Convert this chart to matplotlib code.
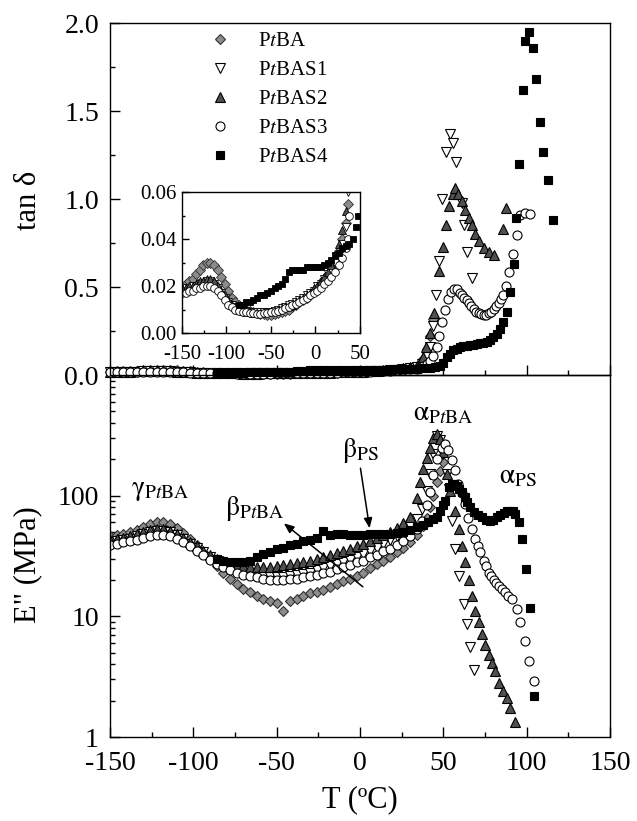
import matplotlib
matplotlib.use('Agg')
import matplotlib.pyplot as plt
from matplotlib.ticker import MultipleLocator, FixedLocator, FixedFormatter, LogLocator, NullFormatter

plt.rcParams['font.family'] = 'serif'
plt.rcParams['font.serif'] = ['Liberation Serif', 'DejaVu Serif']
plt.rcParams['mathtext.fontset'] = 'stix'
plt.rcParams['axes.unicode_minus'] = False

# ---- data ----
# common low-temperature grid (deg C)
T_LOW = [-150, -146, -142, -138, -134, -130, -126, -122, -118, -114, -110, -106, -102, -98,
         -94, -90, -86, -82, -78, -74, -70, -66, -62, -58, -54, -50, -46, -42, -38, -34,
         -30, -26, -22, -18, -14, -10, -6, -2, 2, 6, 10, 14, 18, 22, 26, 30, 34]
T_S4_LOW = [-86, -82, -78, -74, -70, -66, -62, -58, -54, -50, -46, -42, -38, -34, -30, -26,
            -22, -18, -14, -10, -6, -2, 2, 6, 10, 14, 18, 22, 26, 30, 34]

# tan delta, low T
TAN_PTBA_LOW = [.020, .021, .022, .023, .025, .027, .029, .030, .030, .029, .027, .024, .021, .018,
                .015, .013, .012, .011, .010, .0095, .009, .0085, .008, .008, .0078, .0078, .008,
                .0085, .009, .0095, .010, .011, .012, .013, .014, .015, .016, .018, .019, .021,
                .023, .025, .028, .031, .035, .040, .047]
TAN_S1_LOW = [.018, .019, .019, .020, .020, .021, .021, .022, .022, .021, .019, .017, .015, .013,
              .012, .011, .0105, .010, .0095, .009, .009, .0088, .0088, .0088, .009, .009, .0095,
              .010, .0105, .011, .012, .0125, .013, .014, .015, .016, .017, .018, .020, .021,
              .023, .025, .027, .030, .033, .038, .045]
TAN_S2_LOW = [.019, .019, .020, .020, .021, .022, .022, .023, .023, .022, .020, .018, .016, .014,
              .012, .011, .010, .0095, .009, .0088, .0085, .0085, .0085, .0088, .009, .0092, .0095,
              .010, .0105, .011, .0115, .012, .013, .014, .015, .016, .017, .019, .020, .022,
              .024, .026, .029, .033, .038, .044, .052]
TAN_S3_LOW = [.017, .017, .018, .018, .019, .019, .020, .020, .020, .019, .018, .016, .014, .012,
              .011, .010, .0095, .009, .0088, .0085, .0083, .0082, .0082, .0083, .0085, .0088, .009,
              .0095, .010, .0105, .011, .012, .0125, .013, .014, .015, .016, .017, .018, .019,
              .021, .022, .024, .026, .029, .032, .036]
TAN_S4_LOW = [.012, .012, .013, .013, .014, .015, .016, .016, .017, .018, .019, .020, .021, .023,
              .026, .027, .027, .027, .027, .028, .028, .028, .028, .028, .029, .030, .031, .033,
              .034, .036, .037]

# tan delta, high T
T_PTBA_TAN_HI = [36, 38, 40, 42, 44]
TAN_PTBA_HI = [.055, .09, .15, .22, .32]
T_S1_TAN_HI = [37, 40, 42, 44, 45.8, 47.2, 49, 51.8, 54, 56, 57.6, 61, 62.6, 64, 67]
TAN_S1_HI = [.06, .10, .16, .28, .455, .65, 1.0, 1.27, 1.37, 1.32, 1.21, .98, .85, .70, .55]
T_S2_TAN_HI = [36, 38, 39.8, 42.2, 44.2, 47.2, 49.8, 51.8, 53.2, 55.5, 57.2, 59, 61.2, 63.2, 65.2,
               67.2, 69.2, 71.2, 74.2, 77.2, 80.2, 85.8, 87.8]
TAN_S2_HI = [.065, .10, .16, .24, .35, .59, .73, .85, .96, 1.03, 1.06, 1.03, .99, .94, .89,
             .85, .80, .76, .72, .70, .68, .83, .95]
T_S3_TAN_HI = [36, 38, 40, 42, 44, 46.2, 47.2, 49.2, 51.2, 52.6, 54.6, 56.6, 58.2, 60.2, 61.4,
               62.6, 63.9, 65.2, 66.7, 68.2, 69.7, 71.2, 72.7, 74.2, 75.7, 77.2, 78.7, 80.2,
               81.7, 83.2, 84.5, 85.8, 87.8, 89.2, 91.8, 94.2, 96.2, 99.2, 102.2]
TAN_S3_HI = [.04, .05, .065, .08, .11, .16, .22, .30, .37, .43, .474, .49, .487, .468, .455,
             .44, .425, .407, .39, .373, .36, .35, .344, .34, .342, .35, .36, .373,
             .39, .407, .43, .455, .505, .587, .69, .795, .91, .92, .915]
T_S4_TAN_HI = [38, 42, 45, 48, 50, 52, 54, 56, 58, 60, 62, 64, 66, 68, 70, 72, 74, 76, 78, 80,
               82, 84, 86, 88, 90, 92.3, 93.5, 95.4, 97.7, 99, 101.3, 103.7, 105.6, 108, 110,
               112.7, 116]
TAN_S4_HI = [.038, .04, .045, .05, .07, .10, .12, .14, .15, .158, .163, .167, .17, .173, .176,
             .18, .183, .19, .20, .215, .235, .26, .30, .36, .47, .63, .89, 1.20, 1.62, 1.90,
             1.95, 1.86, 1.68, 1.44, 1.27, 1.11, .88]

# E'' (MPa), low T
E_PTBA_LOW = [46, 47, 48, 50, 52, 55, 58, 60, 60, 58, 54, 49, 44, 39, 34, 30, 26, 23, 20.5, 18.5,
              17, 15.8, 14.8, 14, 13.5, 13, 11, 13.5, 14, 14.8, 15.5, 16, 16.5, 17.5, 18.5, 19.5,
              20.5, 21.5, 23, 25, 27, 29, 31, 34, 37, 41, 47]
E_S1_LOW = [41, 42, 43, 44, 46, 48, 50, 51, 51, 50, 47, 44, 40, 37, 34, 31, 28.5, 26.5, 25, 23.5,
            22.5, 22, 21.5, 21, 21, 21, 21, 21.5, 22, 22.5, 23, 24, 25, 26, 27, 28, 29.5, 31, 33,
            35, 37, 40, 43, 46, 50, 56, 64]
E_S2_LOW = [43, 44, 45, 46, 48, 50, 52, 53, 53, 51, 48, 45, 41, 38, 35, 32, 30, 28.5, 27.5, 26.5,
            26, 25.5, 25.5, 25.5, 25.5, 26, 26.5, 27, 27.5, 28, 29, 30, 31, 32, 33.5, 35, 36.5,
            38, 40, 42, 44.5, 47, 50, 54, 59, 66, 95]
E_S3_LOW = [39, 40, 41, 42, 43, 45, 46, 47, 47, 46, 44, 41, 38, 35, 32, 29.5, 27, 25.5, 24, 23,
            22, 21.5, 21, 20.5, 20, 20, 20, 20.5, 20.5, 21, 21.5, 22, 23, 23.5, 24.5, 25.5, 26.5,
            28, 29, 31, 32.5, 34.5, 36.5, 39, 42, 46, 53]
E_S4_LOW = [30, 29, 28, 28, 28, 29, 31, 33, 34, 36, 37, 39, 40, 42, 43, 45, 51, 47, 48, 48, 47,
            47, 47, 48, 48, 48, 48, 49, 50, 52, 55]

# E'' (MPa), high T
T_PTBA_E_HI = [38, 40, 42, 44, 46, 48, 50]
E_PTBA_HI = [56, 65, 80, 100, 130, 160, 190]
T_S1_E_HI = [37, 40, 42, 44, 46, 48, 50, 52, 53.4, 55, 57, 59.4, 62.4, 64.2, 66, 68.4]
E_S1_HI = [78, 110, 150, 220, 310, 290, 220, 150, 114, 62, 36, 21.6, 12.6, 8.6, 5.6, 3.6]
T_S2_E_HI = [36, 38, 40, 42, 44, 46, 48, 50, 52, 54, 57, 59.4, 61.2, 63, 65.4, 67, 69, 71.4, 73,
             75, 77.4, 79, 81, 83.4, 85.8, 88.2, 90, 93]
E_S2_HI = [130, 165, 204, 250, 300, 325, 295, 230, 152, 110, 75, 53, 38.5, 28, 20, 14.7, 11, 8.9,
           7.1, 5.8, 4.8, 4.1, 3.5, 2.8, 2.4, 2.1, 1.74, 1.33]
T_S3_E_HI = [37, 40, 42, 44, 46, 49, 51, 53, 55, 57, 59, 61, 63, 65, 67, 69, 70.7, 72.2, 74.2,
             75.7, 77.2, 78.7, 80.2, 81.7, 83.2, 85, 87.2, 89, 91.2, 94.2, 96.2, 99.2, 101.2, 104.2]
E_S3_HI = [62, 83, 107, 148, 200, 247, 270, 240, 197, 163, 126, 105, 85, 65, 53, 44, 38, 34, 29,
           26, 23, 21.5, 20, 19, 18, 17, 15.8, 14.8, 13.9, 11.4, 8.9, 6.2, 4.25, 2.9]
T_S4_E_HI = [38, 41, 44, 46.2, 48.2, 50, 51.2, 53.2, 55, 56.2, 58, 59.6, 61.2, 62.7, 64.2, 66.2,
             68.2, 70.7, 73.2, 75.7, 78.2, 80, 82, 84.2, 86.2, 88.2, 90.2, 92, 93.2, 95.2, 97.2,
             99.8, 102.2, 104.2]
E_S4_HI = [57, 60, 64, 66, 75, 84, 91, 118, 124, 126, 120, 113, 107, 97, 88, 80, 73, 69, 66, 63,
           62, 63, 66, 69, 72, 74, 75, 74, 71, 60, 44, 24.6, 11.8, 2.17]

LABELS = ['P$\\mathit{t}$BA', 'P$\\mathit{t}$BAS1', 'P$\\mathit{t}$BAS2',
          'P$\\mathit{t}$BAS3', 'P$\\mathit{t}$BAS4']

series = [
    (T_LOW + T_PTBA_TAN_HI, TAN_PTBA_LOW + TAN_PTBA_HI, T_LOW + T_PTBA_E_HI, E_PTBA_LOW + E_PTBA_HI),
    (T_LOW + T_S1_TAN_HI, TAN_S1_LOW + TAN_S1_HI, T_LOW + T_S1_E_HI, E_S1_LOW + E_S1_HI),
    (T_LOW + T_S2_TAN_HI, TAN_S2_LOW + TAN_S2_HI, T_LOW + T_S2_E_HI, E_S2_LOW + E_S2_HI),
    (T_LOW + T_S3_TAN_HI, TAN_S3_LOW + TAN_S3_HI, T_LOW + T_S3_E_HI, E_S3_LOW + E_S3_HI),
    (T_S4_LOW + T_S4_TAN_HI, TAN_S4_LOW + TAN_S4_HI, T_S4_LOW + T_S4_E_HI, E_S4_LOW + E_S4_HI),
]
styles = [
    dict(marker='D', mfc='#8c8c8c', mec='#303030', ms=5.5),
    dict(marker='v', mfc='white', mec='black', ms=7),
    dict(marker='^', mfc='#505050', mec='black', ms=7),
    dict(marker='o', mfc='white', mec='black', ms=6.5),
    dict(marker='s', mfc='black', mec='black', ms=5.5),
]

fig = plt.figure(figsize=(6.37, 8.21), dpi=100)
ax_top = fig.add_axes([0.1727, 0.5432, 0.785, 0.4287])
ax_bot = fig.add_axes([0.1727, 0.1023, 0.785, 0.4409])
ax_in = fig.add_axes([0.2857, 0.5944, 0.2794, 0.1717])
ax_top.set_zorder(2)
ax_top.set_facecolor('none')
ax_in.set_zorder(3)

handles = []
for (tt, tan, te, e), st in zip(series, styles):
    h, = ax_top.plot(tt, tan, ls='none', mew=0.8, clip_on=False, **st)
    handles.append(h)
    ax_in.plot(tt, tan, ls='none', mew=0.6, marker=st['marker'], mfc=st['mfc'],
               mec=st['mec'], ms=st['ms'] * 0.85)
    ax_bot.plot(te, e, ls='none', mew=0.8, **st)

for ax in (ax_top, ax_bot, ax_in):
    ax.set_xlim(-150, 150)
    ax.xaxis.set_major_locator(MultipleLocator(50))
    ax.xaxis.set_minor_locator(MultipleLocator(25))
    ax.tick_params(which='both', direction='in', top=False, right=False, width=1.0)
    ax.tick_params(which='major', length=7, labelsize=20, pad=8)
    ax.tick_params(which='minor', length=3.5)
    for sp in ax.spines.values():
        sp.set_linewidth(1.0)

ax_top.set_ylim(0, 2.0)
ax_top.yaxis.set_major_locator(MultipleLocator(0.5))
ax_top.yaxis.set_minor_locator(MultipleLocator(0.25))
ax_top.yaxis.set_major_formatter(matplotlib.ticker.FormatStrFormatter('%.1f'))
ax_top.tick_params(axis='x', labelbottom=False)

ax_bot.set_yscale('log')
ax_bot.set_ylim(1, 1000)
ax_bot.yaxis.set_major_locator(FixedLocator([1, 10, 100, 1000]))
ax_bot.yaxis.set_major_formatter(FixedFormatter(['1', '10', '100', '']))
ax_bot.yaxis.set_minor_locator(LogLocator(base=10, subs=range(2, 10)))
ax_bot.yaxis.set_minor_formatter(NullFormatter())
ax_bot.tick_params(axis='x', pad=10)

ax_in.set_xlim(-150, 50)
ax_in.set_ylim(0, 0.06)
ax_in.yaxis.set_major_locator(MultipleLocator(0.02))
ax_in.yaxis.set_minor_locator(MultipleLocator(0.01))
ax_in.yaxis.set_major_formatter(matplotlib.ticker.FormatStrFormatter('%.2f'))
ax_in.tick_params(which='major', length=5, labelsize=15, pad=4)
ax_in.tick_params(axis='x', pad=9)
ax_in.tick_params(which='minor', length=2.5)

ax_top.legend(handles, LABELS, loc='upper left', bbox_to_anchor=(0.2, 0.975), frameon=False,
              fontsize=15, handlelength=1.0, handletextpad=1.3, labelspacing=0.45,
              borderaxespad=0, borderpad=0)

# annotations (upright Greek letters as in the original)
ax_bot.text(-120, 110, r'$\mathrm{\gamma}_{\mathrm{P}\mathit{t}\mathrm{BA}}$', fontsize=20, ha='center', va='center')
ax_bot.text(-63, 79, r'$\mathrm{\beta}_{\mathrm{P}\mathit{t}\mathrm{BA}}$', fontsize=20, ha='center', va='center')
ax_bot.text(0, 237, r'$\mathrm{\beta}_{\mathrm{PS}}$', fontsize=20, ha='center', va='center')
ax_bot.text(50, 480, r'$\mathrm{\alpha}_{\mathrm{P}\mathit{t}\mathrm{BA}}$', fontsize=20, ha='center', va='center')
ax_bot.text(95, 144, r'$\mathrm{\alpha}_{\mathrm{PS}}$', fontsize=20, ha='center', va='center')
arrow = dict(arrowstyle='-|>,head_length=0.6,head_width=0.25', color='black', lw=1.1)
ax_bot.annotate('', xy=(-47, 61), xytext=(3, 17), arrowprops=arrow)
ax_bot.annotate('', xy=(6, 51), xytext=(0, 178), arrowprops=arrow)

fig.text(28 / 637, 1 - 200 / 821, 'tan δ', rotation=90, fontsize=22, ha='center', va='center')
fig.text(28 / 637, 1 - 565 / 821, 'E" (MPa)', rotation=90, fontsize=22, ha='center', va='center')
fig.text(360 / 637, 1 - 800 / 821, 'T (ºC)', fontsize=22, ha='center', va='center')

fig.savefig('out.png', dpi=100)
